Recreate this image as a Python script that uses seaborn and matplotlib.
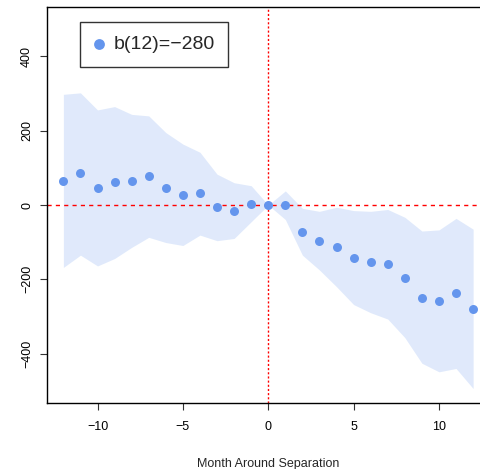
import numpy as np
import pandas as pd
import seaborn as sns
import matplotlib.pyplot as plt

# Event-study estimates
months = list(range(-12, 13))
estimate = [65, 85, 45, 62, 66, 77, 47, 28, 32, -6, -15, 3, 0,
            0, -73, -97, -112, -142, -154, -159, -196, -250, -258, -238, -280]
upper = [298, 302, 256, 265, 244, 240, 195, 164, 142, 83, 60, 52, 0,
         38, -9, -17, -6, -15, -17, -12, -33, -70, -67, -36, -65]
lower = [-168, -135, -164, -144, -114, -87, -101, -109, -81, -96, -90, -45, 0,
         -39, -135, -175, -220, -268, -290, -307, -357, -426, -449, -440, -494]
legend_label = "b(12)=\u2212280"

df = pd.DataFrame({"month": months, "estimate": estimate,
                   "upper": upper, "lower": lower})

sns.set_style("white")
plt.rcParams['font.family'] = ['Liberation Sans', 'DejaVu Sans']
plt.rcParams['axes.unicode_minus'] = True

fig = plt.figure(figsize=(4.81, 4.69), dpi=100)
ax = fig.add_axes([0.0977, 0.1407, 0.920, 0.8443])

ax.fill_between(df["month"], df["lower"], df["upper"],
                color="cornflowerblue", alpha=0.2, lw=0)
ax.axhline(0, color="red", ls=(0, (3, 3)), lw=1)
ax.axvline(0, color="red", ls=(0, (1.5, 1.5)), lw=1)
sns.scatterplot(data=df, x="month", y="estimate", ax=ax, color="cornflowerblue",
                s=42, linewidth=0, label=legend_label, zorder=3)

ax.set_xlim(-12.96, 12.96)
ax.set_ylim(-533, 533)
ax.set_xticks([-10, -5, 0, 5, 10])
ax.set_yticks([-400, -200, 0, 200, 400])
ax.set_yticklabels(["\u2212400", "\u2212200", "0", "200", "400"],
                   rotation=90, va="center")
ax.tick_params(axis="both", direction="out", length=5, width=0.8,
               labelsize=9, left=True, bottom=True, color="#333333",
               labelcolor="black")
ax.tick_params(axis="y", pad=5)
ax.tick_params(axis="x", pad=8)
ax.set_xlabel("Month Around Separation", fontsize=9, labelpad=18)
ax.set_ylabel("")
for side in ["top", "left", "bottom", "right"]:
    ax.spines[side].set_color("black")
    ax.spines[side].set_linewidth(1)

leg = ax.legend(loc="upper left", bbox_to_anchor=(0.075, 0.962), fontsize=14,
                frameon=True, fancybox=False, edgecolor="black",
                borderpad=0.7, handlelength=0.5, handletextpad=0.5,
                markerscale=1.2, borderaxespad=0)
leg.get_frame().set_linewidth(1)

plt.savefig("out.png", dpi=100)
plt.close()
